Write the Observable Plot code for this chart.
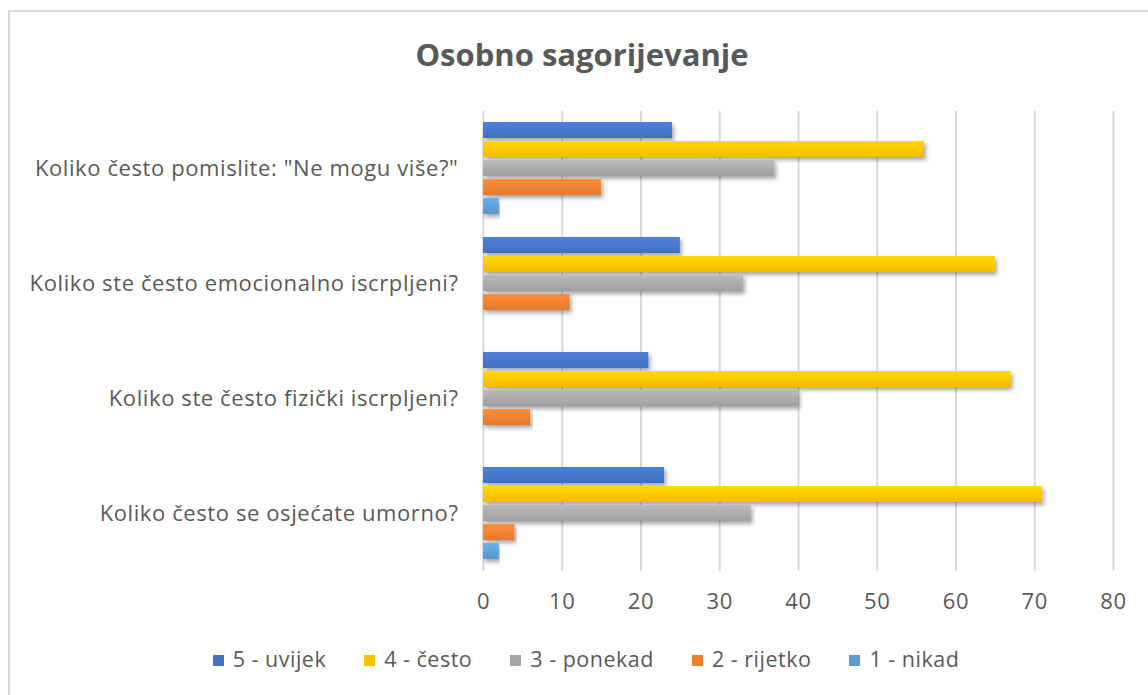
<!DOCTYPE html>
<html>
<head>
<meta charset="utf-8">
<script src="https://cdn.jsdelivr.net/npm/d3@7"></script>
<script src="https://cdn.jsdelivr.net/npm/@observablehq/plot@0.6"></script>
<style>
  html, body { margin: 0; padding: 0; background: #fff; width: 1148px; height: 695px; overflow: hidden; }
  #frame { position: absolute; left: 8px; top: 10px; width: 1160px; height: 700px; border: 2px solid #d9d9d9; box-sizing: border-box; }
  #title { position: absolute; left: 0; top: 33px; width: 1164px; text-align: center; font-family: "Open Sans", sans-serif; font-weight: bold; font-size: 31px; color: #595959; }
  #chart { position: absolute; left: 0; top: 0; }
  #legend { position: absolute; left: 0; top: 644px; width: 1172px; text-align: center; font-family: "Open Sans", sans-serif; font-size: 21.5px; letter-spacing: 0.5px; color: #595959; white-space: nowrap; }
  #legend span.item { display: inline-block; margin: 0 19px; }
  #legend span.sw { display: inline-block; width: 11px; height: 11px; margin-right: 9px; vertical-align: 1px; }
  svg text { letter-spacing: 0.6px; }
</style>
</head>
<body>
<div id="frame"></div>
<div id="title">Osobno sagorijevanje</div>
<div id="chart"></div>
<div id="legend"></div>
<script>
const questions = [
  'Koliko često pomislite: "Ne mogu više?"',
  'Koliko ste često emocionalno iscrpljeni?',
  'Koliko ste često fizički iscrpljeni?',
  'Koliko često se osjećate umorno?'
];
const series = ["5 - uvijek", "4 - često", "3 - ponekad", "2 - rijetko", "1 - nikad"];
const colors = ["#4472C4", "#FFC000", "#A5A5A5", "#ED7D31", "#5B9BD5"];
// values per series, in order of questions
const uvijek  = [24, 25, 21, 23];
const cesto   = [56, 65, 67, 71];
const ponekad = [37, 33, 40, 34];
const rijetko = [15, 11, 6, 4];
const nikad   = [2, 0, 0, 2];
const xTicks = [0, 10, 20, 30, 40, 50, 60, 70, 80];

const seriesValues = [uvijek, cesto, ponekad, rijetko, nikad];
const data = [];
questions.forEach((q, i) => {
  series.forEach((s, j) => {
    data.push({question: q, series: s, value: seriesValues[j][i]});
  });
});

const plot = Plot.plot({
  width: 1148,
  height: 630,
  marginTop: 109,
  marginBottom: 58,
  marginLeft: 483,
  marginRight: 35,
  style: {fontFamily: "'Open Sans', sans-serif", fontSize: "22px", color: "#595959", background: "transparent"},
  x: {domain: [0, 80], ticks: xTicks, label: null},
  y: {domain: series, axis: null, paddingInner: 0.15, paddingOuter: 0.475},
  fy: {domain: questions, padding: 0, label: null},
  color: {domain: series, range: colors},
  marks: [
    Plot.gridX(xTicks, {stroke: "#d9d9d9", strokeOpacity: 1, strokeWidth: 2}),
    Plot.barX(data, {fy: "question", y: "series", x: "value", fill: "series"}),
    Plot.axisX(xTicks, {tickSize: 0, tickPadding: 22, fontSize: 22, fill: "#595959"}),
    Plot.axisFy({anchor: "left", tickSize: 0, tickPadding: 25, fontSize: 22, fill: "#595959", label: null})
  ]
});
document.getElementById("chart").appendChild(plot);

// gradient + shadow styling like the source chart
const svg = d3.select(plot);
const defs = svg.insert("defs", ":first-child");
const f = defs.append("filter").attr("id", "shadow").attr("x", "-5%").attr("y", "-30%").attr("width", "110%").attr("height", "180%");
f.append("feDropShadow").attr("dx", 2).attr("dy", 3).attr("stdDeviation", 2).attr("flood-color", "#000").attr("flood-opacity", 0.35);
colors.forEach((c, i) => {
  const g = defs.append("linearGradient").attr("id", "grad" + i).attr("x1", 0).attr("y1", 0).attr("x2", 0).attr("y2", 1);
  g.append("stop").attr("offset", "0%").attr("stop-color", d3.color(c).brighter(0.35));
  g.append("stop").attr("offset", "100%").attr("stop-color", d3.color(c).darker(0.1));
});
svg.selectAll("g[aria-label='bar'] rect").each(function() {
  const fill = d3.color(this.getAttribute("fill"));
  const idx = colors.findIndex(c => d3.color(c).formatHex() === (fill ? fill.formatHex() : ""));
  if (idx >= 0) this.setAttribute("fill", "url(#grad" + idx + ")");
  this.setAttribute("filter", "url(#shadow)");
});

const legend = document.getElementById("legend");
series.forEach((s, i) => {
  const item = document.createElement("span");
  item.className = "item";
  const sw = document.createElement("span");
  sw.className = "sw";
  sw.style.background = colors[i];
  item.appendChild(sw);
  item.appendChild(document.createTextNode(s));
  legend.appendChild(item);
});
</script>
</body>
</html>
